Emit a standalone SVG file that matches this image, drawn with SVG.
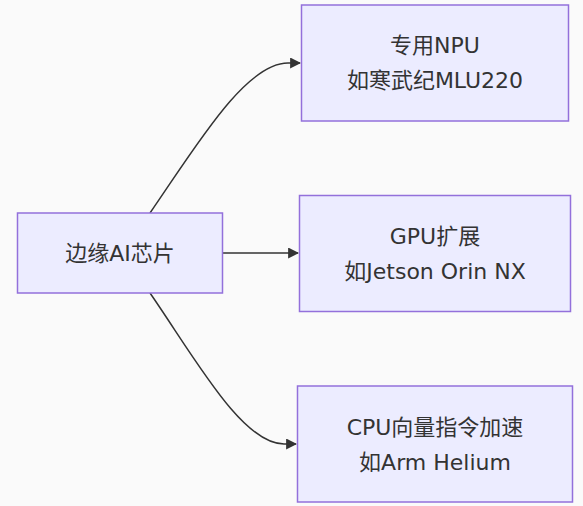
<svg xmlns="http://www.w3.org/2000/svg" width="583" height="506" viewBox="0 0 583 506">
  <style>
    .node rect { fill: #ECECFF; stroke: #9370DB; stroke-width: 1.5; }
    .node text { font-family: "DejaVu Sans", "Noto Sans CJK SC", sans-serif; font-size: 22px; fill: #333333; text-anchor: middle; }
    .edge { fill: none; stroke: #333333; stroke-width: 1.5; }
  </style>
  <defs>
    <marker id="arrow" viewBox="0 0 10 10" refX="9" refY="5" markerWidth="11" markerHeight="11" markerUnits="userSpaceOnUse" orient="auto">
      <path d="M0,0 L10,5 L0,10 z" fill="#333333"/>
    </marker>
  </defs>
  <rect x="0" y="0" width="583" height="506" fill="#fafafa"/>
  <g id="connectors">
    <path class="edge" d="M150,213 C195,148 245,63 288,63 L300,63" marker-end="url(#arrow)"/>
    <path class="edge" d="M223,253 L298,253" marker-end="url(#arrow)"/>
    <path class="edge" d="M150,293 C195,358 242,444 284,444 L296,444" marker-end="url(#arrow)"/>
  </g>
  <g id="edgeAI" class="node">
    <rect x="17.5" y="213" width="205" height="80"/>
    <text x="120" y="260.5">边缘AI芯片</text>
  </g>
  <g id="npu" class="node">
    <rect x="301.5" y="5" width="267" height="116"/>
    <text x="435" y="52.5">专用NPU</text>
    <text x="435" y="87.5">如寒武纪MLU220</text>
  </g>
  <g id="gpu" class="node">
    <rect x="299.5" y="195.5" width="271" height="116"/>
    <text x="435" y="243.5">GPU扩展</text>
    <text x="435" y="278.5">如Jetson Orin NX</text>
  </g>
  <g id="cpu" class="node">
    <rect x="297.5" y="386" width="275" height="116"/>
    <text x="435" y="435">CPU向量指令加速</text>
    <text x="435" y="470">如Arm Helium</text>
  </g>
</svg>
